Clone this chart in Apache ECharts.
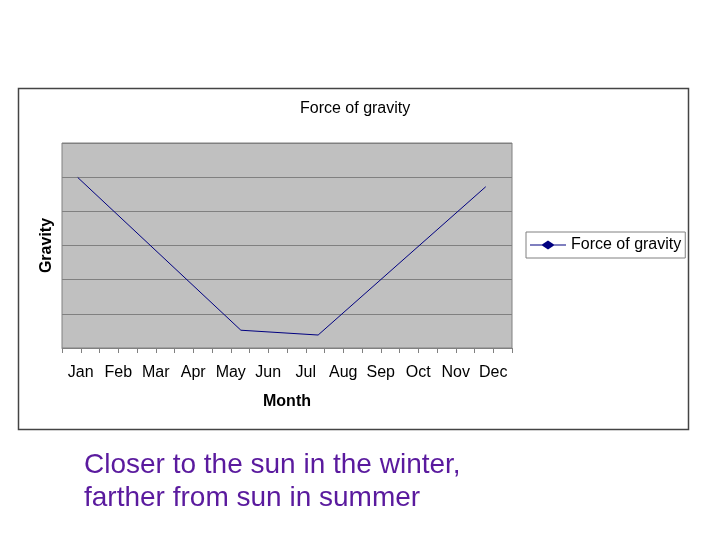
<!DOCTYPE html>
<html>
<head>
<meta charset="utf-8">
<script src="https://cdn.jsdelivr.net/npm/echarts@6/dist/echarts.min.js"></script>
<style>html,body{margin:0;padding:0;background:#fff}#c{width:720px;height:540px}</style>
</head>
<body>
<div id="c"></div>
<script>
// Month tick labels (category centres at k + 0.5 on the month scale)
var months = ['Jan','Feb','Mar','Apr','May','Jun','Jul','Aug','Sep','Oct','Nov','Dec'];
// Line points: position on month scale and gravity value (unlabelled scale 0-6)
var pointX = [0.42, 4.77, 6.83, 11.30];
var gravity = [4.99, 0.52, 0.38, 4.72];
var seriesName = 'Force of gravity';
var captionLines = ['Closer to the sun in the winter,', 'farther from sun in summer'];

var data = pointX.map(function (x, i) { return [x, gravity[i]]; });
var chart = echarts.init(document.getElementById('c'), null, {renderer: 'canvas'});
var FONT = 'Liberation Sans, Arial, sans-serif';
chart.setOption({
  animation: false,
  backgroundColor: '#fff',
  textStyle: {fontFamily: FONT},
  title: {
    text: 'Force of gravity', left: 295, top: 96,
    textStyle: {fontSize: 16, fontWeight: 'normal', color: '#000', fontFamily: FONT}
  },
  graphic: [
    {type: 'rect', shape: {x: 18.5, y: 88.5, width: 670, height: 341},
     style: {fill: null, stroke: '#444', lineWidth: 1.5}, silent: true, z: -1},
    {type: 'text', left: 84, top: 449,
     style: {text: captionLines.join('\n'), fill: '#5a1a9e', font: '28px ' + FONT, lineHeight: 33}}
  ],
  legend: {
    left: 526, top: 232,
    padding: [5, 4, 5, 4],
    itemGap: 5,
    borderColor: '#808080', borderWidth: 1,
    itemWidth: 36, itemHeight: 9,
    textStyle: {fontSize: 16, color: '#000', fontFamily: FONT},
    data: [{name: seriesName,
      icon: 'path://M0,4 L12,4 L18,0 L24,4 L36,4 L36,5 L24,5 L18,9 L12,5 L0,5 Z'}]
  },
  grid: {left: 62, top: 143, width: 450, height: 205, show: true,
         backgroundColor: '#c0c0c0', borderColor: '#808080', borderWidth: 1},
  xAxis: {
    type: 'value', min: 0, max: 12, interval: 0.5,
    axisLine: {show: true, lineStyle: {color: '#808080'}},
    axisTick: {show: true, length: 5, lineStyle: {color: '#808080'}},
    splitLine: {show: false},
    axisLabel: {
      fontSize: 16, color: '#000', margin: 17, fontFamily: FONT,
      formatter: function (v) {
        var k = Math.floor(v);
        return (Math.abs(v - k - 0.5) < 1e-6 && months[k]) ? months[k] : '';
      }
    },
    name: 'Month', nameLocation: 'middle', nameGap: 46,
    nameTextStyle: {fontSize: 16, fontWeight: 'bold', color: '#000', fontFamily: FONT}
  },
  yAxis: {
    type: 'value', min: 0, max: 6, interval: 1,
    axisLine: {show: false}, axisTick: {show: false}, axisLabel: {show: false},
    splitLine: {show: true, lineStyle: {color: '#808080', width: 1}},
    name: 'Gravity', nameLocation: 'middle', nameGap: 7,
    nameTextStyle: {fontSize: 16, fontWeight: 'bold', color: '#000', fontFamily: FONT}
  },
  series: [{
    name: seriesName, type: 'line', data: data,
    showSymbol: false, symbol: 'diamond', symbolSize: 8,
    lineStyle: {color: '#000080', width: 1},
    itemStyle: {color: '#000080'}
  }]
});
</script>
</body>
</html>
